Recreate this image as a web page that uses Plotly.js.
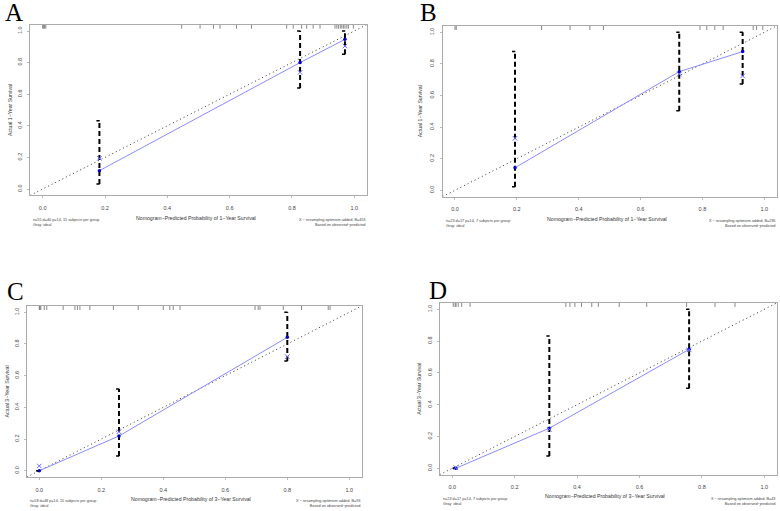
<!DOCTYPE html>
<html>
<head>
<meta charset="utf-8">
<script src="https://cdn.plot.ly/plotly-3.0.1.min.js"></script>
<style>html,body{margin:0;padding:0;background:#fff}#chart{width:780px;height:511px}</style>
</head>
<body>
<div id="chart"></div>
<script>
// ---------- data ----------
const tickVals = [0, 0.2, 0.4, 0.6, 0.8, 1.0];
const tickText = ["0.0", "0.2", "0.4", "0.6", "0.8", "1.0"];

const panelLetters = ["A", "B", "C", "D"];
const xTitles = ["Nomogram\u2212Predicted Probability of 1\u2212Year Survival",
                 "Nomogram\u2212Predicted Probability of 1\u2212Year Survival",
                 "Nomogram\u2212Predicted Probability of 3\u2212Year Survival",
                 "Nomogram\u2212Predicted Probability of 3\u2212Year Survival"];
const yTitles = ["Actual 1\u2212Year Survival", "Actual 1\u2212Year Survival",
                 "Actual 3\u2212Year Survival", "Actual 3\u2212Year Survival"];
const noteLeft = ["n=55 d=40 p=14, 15 subjects per group<br>Gray: ideal",
                  "n=23 d=17 p=14, 7 subjects per group<br>Gray: ideal",
                  "n=58 d=48 p=14, 15 subjects per group<br>Gray: ideal",
                  "n=23 d=17 p=14, 7 subjects per group<br>Gray: ideal"];
const noteRight = ["X \u2212 resampling optimism added, B=453<br>Based on observed\u2212predicted",
                   "X \u2212 resampling optimism added, B=236<br>Based on observed\u2212predicted",
                   "X \u2212 resampling optimism added, B=93<br>Based on observed\u2212predicted",
                   "X \u2212 resampling optimism added, B=43<br>Based on observed\u2212predicted"];

// Panel A
const predA = [0.182, 0.826, 0.970];
const obsA  = [0.116, 0.800, 0.947];
const corrA = [0.194, 0.738, 0.905];
const loA   = [0.032, 0.640, 0.853];
const hiA   = [0.432, 1.000, 1.000];
const rugA  = [0.0, 0.003, 0.006, 0.010, 0.446, 0.505, 0.548, 0.569, 0.622, 0.670, 0.783, 0.804,
               0.831, 0.847, 0.868, 0.890, 0.938, 0.944, 0.949, 0.955, 0.960, 0.965, 0.970, 0.976, 0.981, 0.997];
// Panel B
const predB = [0.194, 0.725, 0.930];
const obsB  = [0.143, 0.751, 0.878];
const corrB = [0.329, 0.735, 0.724];
const loB   = [0.023, 0.504, 0.673];
const hiB   = [0.878, 1.000, 1.000];
const rugB  = [0.0, 0.004, 0.280, 0.372, 0.436, 0.480, 0.792, 0.814, 0.840, 0.867, 0.964, 0.975, 0.995];
// Panel C
const predC = [0.000, 0.257, 0.800];
const obsC  = [0.000, 0.219, 0.842];
const corrC = [0.030, 0.246, 0.720];
const loC   = [0.000, 0.093, 0.692];
const hiC   = [0.000, 0.516, 1.000];
const rugC  = [0.0, 0.002, 0.005, 0.016, 0.024, 0.077, 0.115, 0.123, 0.131, 0.163, 0.239, 0.319, 0.400,
               0.421, 0.432, 0.454, 0.696, 0.706, 0.712, 0.787, 0.846, 0.932, 0.938];
// Panel D
const predD = [0.011, 0.311, 0.759];
const obsD  = [0.000, 0.252, 0.748];
const corrD = [0.004, 0.245, 0.745];
const loD   = [0.000, 0.078, 0.503];
const hiD   = [0.000, 0.832, 1.000];
const rugD  = [0.003, 0.009, 0.012, 0.019, 0.030, 0.057, 0.364, 0.377, 0.393, 0.414, 0.447, 0.468,
               0.535, 0.623, 0.751, 0.842, 0.906];

const panels = [
  {pred: predA, obs: obsA, corr: corrA, lo: loA, hi: hiA, rug: rugA},
  {pred: predB, obs: obsB, corr: corrB, lo: loB, hi: hiB, rug: rugB},
  {pred: predC, obs: obsC, corr: corrC, lo: loC, hi: hiC, rug: rugC},
  {pred: predD, obs: obsD, corr: corrD, lo: loD, hi: hiD, rug: rugD}
];

// ---------- layout geometry (pixels of tick 0 and tick 1) ----------
const W = 780, H = 511;
const geo = [
  {x0: 42.7, x1: 354.3, y0: 189.0, y1: 31.0, letter: [14, 13], ytx: 10, xty: 218, nty: 222.5},
  {x0: 455.0, x1: 764.3, y0: 190.3, y1: 32.3, letter: [428, 12], ytx: 420, xty: 219, nty: 223},
  {x0: 39.3, x1: 349.3, y0: 470.7, y1: 312.3, letter: [15, 291], ytx: 6, xty: 499, nty: 503.5},
  {x0: 452.3, x1: 764.3, y0: 468.3, y1: 309.3, letter: [438, 290], ytx: 419, xty: 496, nty: 501.5}
];
const R0 = -0.04, R1 = 1.04;

const font = "Liberation Sans, Arial, sans-serif";
const traces = [];
const layout = {
  width: W, height: H,
  margin: {l: 0, r: 0, t: 0, b: 0},
  paper_bgcolor: "#fff", plot_bgcolor: "#fff",
  showlegend: false,
  font: {family: font, color: "#333", size: 5},
  annotations: []
};

panels.forEach((p, i) => {
  const g = geo[i];
  const sx = g.x1 - g.x0, sy = g.y0 - g.y1;
  const left = g.x0 + R0 * sx, right = g.x0 + R1 * sx;
  const top = g.y0 - R1 * sy, bottom = g.y0 - R0 * sy;
  const n = i === 0 ? "" : String(i + 1);
  const xa = "x" + n, ya = "y" + n;

  const axCommon = {
    range: [R0, R1], tickvals: tickVals, ticktext: tickText,
    showgrid: false, zeroline: false, showline: true, mirror: true,
    linecolor: "#aaa", linewidth: 1, ticks: "outside", ticklen: 2, tickcolor: "#bbb",
    tickfont: {family: font, size: 5.5, color: "#444"}, fixedrange: true
  };
  layout["xaxis" + n] = Object.assign({}, axCommon, {
    domain: [left / W, right / W], anchor: ya, ticklabelstandoff: 5
  });
  layout["yaxis" + n] = Object.assign({}, axCommon, {
    domain: [1 - bottom / H, 1 - top / H], anchor: xa, tickangle: -90, ticklabelstandoff: 3
  });

  // ideal line
  traces.push({x: [R0, R1], y: [R0, R1], xaxis: xa, yaxis: ya, mode: "lines",
    line: {color: "#333", width: 1, dash: "1px,3px"}, hoverinfo: "skip"});

  // rug along the top
  const rx = [], ry = [];
  const rugLen = 4 / sy;
  p.rug.forEach(v => { rx.push(v, v, null); ry.push(R1, R1 - rugLen, null); });
  traces.push({x: rx, y: ry, xaxis: xa, yaxis: ya, mode: "lines",
    line: {color: "#555", width: 0.7}, hoverinfo: "skip"});

  // error bars (dashed vertical)
  const ex = [], ey = [];
  p.pred.forEach((v, k) => { ex.push(v, v, null); ey.push(p.lo[k], p.hi[k], null); });
  traces.push({x: ex, y: ey, xaxis: xa, yaxis: ya, mode: "lines",
    line: {color: "#000", width: 2, dash: "5px,3px"}, hoverinfo: "skip"});
  // caps
  const cx = [], cy = [];
  const capW = 3 / sx;
  p.pred.forEach((v, k) => {
    cx.push(v - capW, v + 0.3 / sx, null); cy.push(p.lo[k], p.lo[k], null);
    cx.push(v - capW, v + 0.3 / sx, null); cy.push(p.hi[k], p.hi[k], null);
  });
  traces.push({x: cx, y: cy, xaxis: xa, yaxis: ya, mode: "lines",
    line: {color: "#000", width: 1.5}, hoverinfo: "skip"});

  // apparent calibration line with points
  traces.push({x: p.pred, y: p.obs, xaxis: xa, yaxis: ya, mode: "lines+markers",
    line: {color: "#8a8aff", width: 1},
    marker: {color: "#0000c8", size: 3.5, symbol: "circle"}});

  // bias-corrected X markers
  traces.push({x: p.pred, y: p.corr, xaxis: xa, yaxis: ya, mode: "markers",
    marker: {symbol: "x-thin", size: 4.5, color: "#6666ff", line: {color: "#6666ff", width: 1}}});

  // panel letter
  layout.annotations.push({text: panelLetters[i], xref: "paper", yref: "paper",
    x: g.letter[0] / W, y: 1 - g.letter[1] / H, showarrow: false,
    xanchor: "center", yanchor: "middle",
    font: {family: "Liberation Serif, Times New Roman, serif", size: 25, color: "#000"}});
  // x title
  layout.annotations.push({text: xTitles[i], xref: "paper", yref: "paper",
    x: ((left + right) / 2 - 3) / W, y: 1 - g.xty / H, showarrow: false,
    xanchor: "center", yanchor: "middle", font: {family: font, size: 5.2, color: "#333"}});
  // y title
  layout.annotations.push({text: yTitles[i], xref: "paper", yref: "paper",
    x: g.ytx / W, y: 1 - ((top + bottom) / 2) / H, showarrow: false, textangle: -90,
    xanchor: "center", yanchor: "middle", font: {family: font, size: 5.2, color: "#333"}});
  // notes
  layout.annotations.push({text: noteLeft[i], xref: "paper", yref: "paper",
    x: (left + 1) / W, y: 1 - g.nty / H, showarrow: false, align: "left",
    xanchor: "left", yanchor: "middle", font: {family: font, size: 3.8, color: "#444"}});
  layout.annotations.push({text: noteRight[i], xref: "paper", yref: "paper",
    x: right / W, y: 1 - g.nty / H, showarrow: false, align: "right",
    xanchor: "right", yanchor: "middle", font: {family: font, size: 3.8, color: "#444"}});
});

Plotly.newPlot("chart", traces, layout, {displayModeBar: false, staticPlot: true});
</script>
</body>
</html>
